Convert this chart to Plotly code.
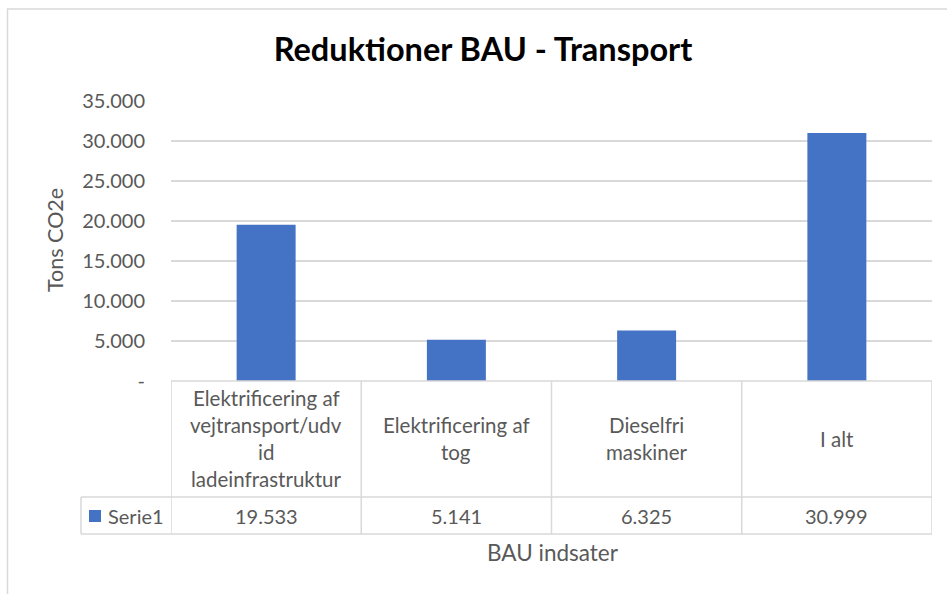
import plotly.graph_objects as go

# ---- data ----
categories = [
    "Elektrificering af vejtransport/udvid ladeinfrastruktur",
    "Elektrificering af tog",
    "Dieselfri maskiner",
    "I alt",
]
category_lines = [
    ["Elektrificering af", "vejtransport/udv", "id", "ladeinfrastruktur"],
    ["Elektrificering af", "tog"],
    ["Dieselfri", "maskiner"],
    ["I alt"],
]
values = [19533, 5141, 6325, 30999]
series_name = "Serie1"
y_ticks = [0, 5000, 10000, 15000, 20000, 25000, 30000, 35000]
title_text = "Reduktioner BAU - Transport"
y_title = "Tons CO2e"
x_title = "BAU indsater"

BAR = "#4472C4"
GRID = "#d9d9d9"
TXT = "#595959"
FONT = "Lato"

W, H = 947, 594
L, R, T, B = 171, 15, 101, 213
PW, PH = W - L - R, H - T - B


def fmt(v):
    return "-" if v == 0 else f"{v:,}".replace(",", ".")


def py(pix):  # pixel y -> paper y
    return (H - B - pix) / PH


def px(pix):  # pixel x -> paper x
    return (pix - L) / PW


fig = go.Figure(
    go.Bar(
        x=list(range(len(categories))),
        y=values,
        name=series_name,
        marker=dict(color=BAR, line=dict(width=0)),
        width=0.31,
        hovertext=categories,
    )
)

shapes = []
annotations = []

# outer chart border
shapes.append(dict(type="rect", xref="paper", yref="paper",
                   x0=px(7.5), x1=px(960), y0=py(9), y1=py(610),
                   line=dict(color=GRID, width=1.5), fillcolor="rgba(0,0,0,0)", layer="below"))

# table geometry
y_head_bot = py(497)
y_table_bot = py(534)
x_left = px(81)

# horizontal table lines
shapes.append(dict(type="line", xref="paper", yref="paper", x0=0, x1=1, y0=0, y1=0,
                   line=dict(color=GRID, width=1.5)))
for yy in (y_head_bot, y_table_bot):
    shapes.append(dict(type="line", xref="paper", yref="paper", x0=x_left, x1=1, y0=yy, y1=yy,
                       line=dict(color=GRID, width=1.5)))
# vertical table lines at category boundaries
for i in range(len(categories) + 1):
    shapes.append(dict(type="line", xref="x", yref="paper", x0=i - 0.5, x1=i - 0.5,
                       y0=0, y1=y_table_bot, line=dict(color=GRID, width=1.5)))
shapes.append(dict(type="line", xref="paper", yref="paper", x0=x_left, x1=x_left,
                   y0=y_head_bot, y1=y_table_bot, line=dict(color=GRID, width=1.5)))

# header cell texts (category names)
head_center = py(438.5)
LINE_H = 27
for i, lines in enumerate(category_lines):
    n = len(lines)
    for j, ln in enumerate(lines):
        annotations.append(dict(xref="x", yref="paper", x=i, y=head_center,
                                yshift=-(j - (n - 1) / 2) * LINE_H,
                                text=ln, showarrow=False, xanchor="center", yanchor="middle",
                                font=dict(family=FONT, size=20.5, color=TXT)))

# data row
row_center = py(516)
for i, v in enumerate(values):
    annotations.append(dict(xref="x", yref="paper", x=i, y=row_center, text=fmt(v),
                            showarrow=False, xanchor="center", yanchor="middle",
                            font=dict(family=FONT, size=20, color=TXT)))
# legend key + series name
shapes.append(dict(type="rect", xref="paper", yref="paper",
                   x0=px(89), x1=px(101), y0=py(510), y1=py(522),
                   fillcolor=BAR, line=dict(width=0)))
annotations.append(dict(xref="paper", yref="paper", x=px(106), y=row_center, text=series_name,
                        showarrow=False, xanchor="left", yanchor="middle",
                        font=dict(family=FONT, size=20, color=TXT)))

# axis titles
annotations.append(dict(xref="paper", yref="paper", x=px(55), y=py(240), text=y_title,
                        textangle=-90, showarrow=False, xanchor="center", yanchor="middle",
                        font=dict(family=FONT, size=21.5, color=TXT)))
annotations.append(dict(xref="paper", yref="paper", x=px(553), y=py(552), text=x_title,
                        showarrow=False, xanchor="center", yanchor="middle",
                        font=dict(family=FONT, size=22.5, color=TXT)))

fig.update_layout(
    width=W, height=H,
    margin=dict(l=L, r=R, t=T, b=B, pad=0),
    paper_bgcolor="white", plot_bgcolor="white",
    showlegend=False,
    title=dict(text=f"<b>{title_text}</b>", x=483 / W, xanchor="center", xref="container",
               y=1 - 50 / H, yanchor="middle", yref="container",
               font=dict(family=FONT, size=32.5, color="black")),
    xaxis=dict(range=[-0.5, len(categories) - 0.5], showticklabels=False, showgrid=False,
               zeroline=False, showline=False, ticks="", fixedrange=True),
    yaxis=dict(range=[0, 35000], tickvals=y_ticks, ticktext=[fmt(v) for v in y_ticks],
               showgrid=True, gridcolor=GRID, gridwidth=1.5, zeroline=False, showline=False,
               ticks="", ticklabelstandoff=25,
               tickfont=dict(family=FONT, size=20, color=TXT), fixedrange=True),
    shapes=shapes,
    annotations=annotations,
)

fig.write_html("out.html", config={"displayModeBar": False},
               post_script="document.body.style.margin='0';")
